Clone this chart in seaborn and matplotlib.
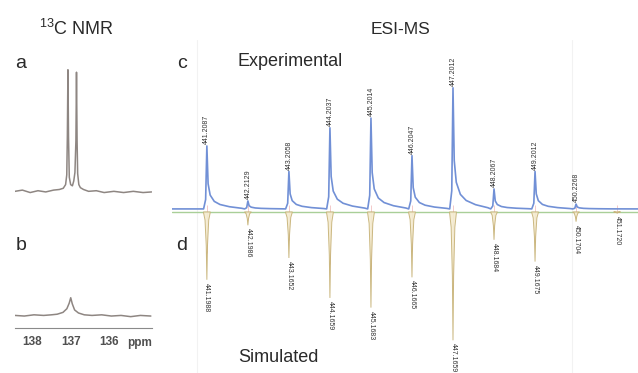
import numpy as np
import seaborn as sns
import matplotlib.pyplot as plt

# 13C NMR traces (ppm, intensity)
nmr_a_ppm = [138.44, 138.25, 138.05, 137.85, 137.65, 137.45, 137.3, 137.2, 137.14, 137.11, 137.095,
             137.08, 137.065, 137.045, 137.01, 136.965, 136.93, 136.9, 136.875, 136.86, 136.845,
             136.83, 136.80, 136.76, 136.68, 136.55, 136.35, 136.15, 135.9, 135.65, 135.4, 135.15, 134.93]
nmr_a_int = [0.5, 1.5, -0.5, 1.0, 0.0, 1.5, 2.0, 3.0, 6.0, 14.0, 45.0,
             100.0, 45.0, 12.0, 6.0, 5.0, 9.0, 16.0, 42.0, 98.0, 42.0,
             15.0, 6.0, 3.5, 2.0, 0.5, 1.0, -0.5, 0.5, -0.5, 0.5, -0.5, 0.0]

nmr_b_ppm = [138.44, 138.2, 137.95, 137.7, 137.5, 137.35, 137.2, 137.1, 137.04, 137.0,
             136.96, 136.9, 136.8, 136.65, 136.45, 136.2, 135.95, 135.7, 135.45, 135.2, 134.93]
nmr_b_int = [0.5, 0.0, 1.0, 0.5, 1.0, 1.5, 3.0, 6.0, 10.5, 15.0,
             10.0, 5.0, 2.5, 1.0, 0.5, 1.0, 0.0, 0.5, -0.5, 0.5, 0.0]
ppm_ticks = [138, 137, 136]

# ESI-MS isotope pattern
exp_mz = [441, 442, 443, 444, 445, 446, 447, 448, 449, 450]
exp_int = [52, 6.6, 31, 67, 75, 44, 100, 16.5, 31, 4]
exp_labels = ["441.2087", "442.2129", "443.2058", "444.2037", "445.2014",
              "446.2047", "447.2012", "448.2067", "449.2012", "450.2268"]
sim_mz = [441, 442, 443, 444, 445, 446, 447, 448, 449, 450, 451]
sim_int = [56, 11, 38, 71, 79, 54, 106, 23, 41, 8, 1]
sim_labels = ["441.1988", "442.1986", "443.1652", "444.1659", "445.1683", "446.1665",
              "447.1659", "448.1684", "449.1675", "450.1704", "451.1720"]

# shape of one experimental peak (offset in m/z, fraction of height)
exp_shape_dx = [-0.08, -0.03, 0.0, 0.03, 0.08, 0.18, 0.32, 0.55, 0.85]
exp_shape_f = [0.0, 0.15, 1.0, 0.40, 0.22, 0.12, 0.07, 0.035, 0.01]
exp_base = 2.5
# shape of one simulated peak
sim_shape_dx = [-0.085, -0.045, -0.015, 0.0, 0.015, 0.045, 0.085]
sim_shape_f = [0.0, 0.12, 0.5, 1.0, 0.5, 0.12, 0.0]

sns.set_style("white")
plt.rcParams['font.family'] = ['Liberation Sans', 'DejaVu Sans']
plt.rcParams['mathtext.default'] = 'regular'

W, H = 638, 373
fig = plt.figure(figsize=(W / 100, H / 100), dpi=100)


def box(l, t, r, b):
    return [l / W, 1 - b / H, (r - l) / W, (b - t) / H]


nmr_col = "#8e8682"
# panel a
ax_a = fig.add_axes(box(15, 60, 152, 200))
sns.lineplot(x=nmr_a_ppm, y=nmr_a_int, sort=False, estimator=None, color=nmr_col, lw=1.1, ax=ax_a)
ax_a.set_xlim(138.44, 134.92)
ax_a.set_ylim(-6.6, 108)
ax_a.axis("off")

# panel b
ax_b = fig.add_axes(box(15, 230, 152, 328))
sns.lineplot(x=nmr_b_ppm, y=nmr_b_int, sort=False, estimator=None, color=nmr_col, lw=1.1, ax=ax_b)
ax_b.set_xlim(138.44, 134.92)
ax_b.set_ylim(-9.8, 70.5)
for s in ["top", "left", "right"]:
    ax_b.spines[s].set_visible(False)
ax_b.spines["bottom"].set_color("#8a8a8a")
ax_b.spines["bottom"].set_linewidth(0.8)
ax_b.set_yticks([])
ax_b.set_xticks(ppm_ticks)
ax_b.set_xticklabels([str(t) for t in ppm_ticks], fontsize=8.5, fontweight="bold", color="#505050")
ax_b.set_xticks(np.arange(134.9, 138.45, 0.1), minor=True)
ax_b.tick_params(axis="x", which="major", direction="inout", length=5, width=0.8, color="#808080", pad=3)
ax_b.tick_params(axis="x", which="minor", direction="inout", length=3, width=0.6, color="#8a8a8a")
fig.text(140 / W, 1 - 343 / H, "ppm", ha="center", va="center", fontsize=8.5,
         fontweight="bold", color="#505050")

# ESI-MS panel
ax_m = fig.add_axes(box(172, 40, 638, 373))
ax_m.set_xlim(440.15, 451.51)
ax_m.set_ylim(-133, 142)
ax_m.axis("off")
for gx in [440.75, 449.9]:
    ax_m.axvline(gx, color="#f2f2f2", lw=0.8, zorder=0)
ax_m.axhline(0, color="#a9cf98", lw=1.0, zorder=1)

ex = [440.15]
ey = [exp_base]
for m, h in zip(exp_mz, exp_int):
    for dx, f in zip(exp_shape_dx, exp_shape_f):
        ex.append(m + dx)
        ey.append(exp_base + h * f)
ex.append(451.51)
ey.append(exp_base)
sns.lineplot(x=ex, y=ey, sort=False, estimator=None, color="#7190d6", lw=1.2, ax=ax_m, zorder=3)

for m, d in zip(sim_mz, sim_int):
    sx = [m + dx for dx in sim_shape_dx]
    sy = [-d * f for f in sim_shape_f]
    ax_m.vlines(m, -d * 0.6, exp_base + 3, color="#eba0a0", lw=0.4, zorder=2)
    ax_m.fill(sx, sy, facecolor="#f4ecd0", edgecolor="#c6b175", lw=0.7, alpha=0.9, zorder=2)

for m, h, lab in zip(exp_mz, exp_int, exp_labels):
    ax_m.text(m, exp_base + h + 1.5, lab, rotation=90, ha="center", va="bottom",
              fontsize=5, color="#333333")
for m, d, lab in zip(sim_mz, sim_int, sim_labels):
    ax_m.text(m, -d - 2.5, lab, rotation=270, ha="center", va="top",
              fontsize=5, color="#333333")

# titles and panel letters
txt = dict(color="#2a2a2a", ha="center", va="center")
fig.text(76 / W, 1 - 29 / H, "$^{13}$C NMR", fontsize=13, **txt)
fig.text(400 / W, 1 - 29 / H, "ESI-MS", fontsize=12.5, **txt)
fig.text(290 / W, 1 - 62 / H, "Experimental", fontsize=13, **txt)
fig.text(278 / W, 1 - 357 / H, "Simulated", fontsize=13, **txt)
for letter, lx, ly in [("a", 21, 63), ("b", 21, 246), ("c", 182, 63), ("d", 182, 246)]:
    fig.text(lx / W, 1 - ly / H, letter, fontsize=14, **txt)

fig.savefig("out.png", dpi=100)
